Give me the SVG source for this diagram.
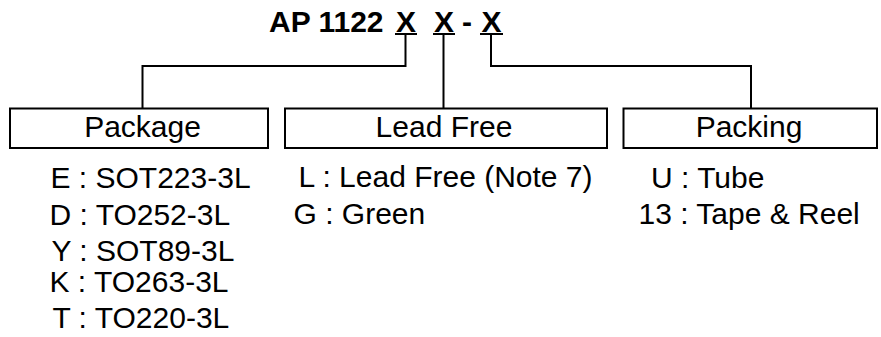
<svg xmlns="http://www.w3.org/2000/svg" width="881" height="337" viewBox="0 0 881 337">
<style>
.t{font-family:"Liberation Sans",Arial,sans-serif;font-size:30px;fill:#000}
.title{font-family:"Liberation Sans",Arial,sans-serif;font-size:30px;font-weight:bold;fill:#000}
.box{fill:#fff;stroke:#000;stroke-width:2}
.ln{fill:none;stroke:#000;stroke-width:2}
.c{text-anchor:middle}
</style>
<rect width="881" height="337" fill="#fff"/>
<g id="title">
<text class="title" y="31.5"><tspan x="269">AP 1122</tspan><tspan x="396">X</tspan><tspan x="434">X</tspan><tspan x="462">-</tspan><tspan x="481.5">X</tspan></text>
<line class="ln" x1="395" y1="34" x2="417" y2="34"/>
<line class="ln" x1="433" y1="34" x2="455" y2="34"/>
<line class="ln" x1="480" y1="34" x2="503" y2="34"/>
</g>
<g id="connectors">
<polyline class="ln" points="405.5,35 405.5,66 142.5,66 142.5,108.5"/>
<polyline class="ln" points="443.5,35 443.5,108.5"/>
<polyline class="ln" points="491,35 491,66 751,66 751,108.5"/>
</g>
<g id="package">
<rect class="box" x="10" y="108.5" width="258" height="39.5"/>
<text class="t c" x="142.5" y="137">Package</text>
<text class="t" x="50.5" y="188">E : SOT223-3L</text>
<text class="t" x="49.5" y="225">D : TO252-3L</text>
<text class="t" x="51.5" y="261">Y : SOT89-3L</text>
<text class="t" x="49.5" y="292">K : TO263-3L</text>
<text class="t" x="52.5" y="328">T : TO220-3L</text>
</g>
<g id="leadfree">
<rect class="box" x="285" y="108.5" width="322" height="39.5"/>
<text class="t c" x="444" y="137">Lead Free</text>
<text class="t" x="298.5" y="187">L : Lead Free (Note 7)</text>
<text class="t" x="293.5" y="223.5">G : Green</text>
</g>
<g id="packing">
<rect class="box" x="623.5" y="108.5" width="253.5" height="39.5"/>
<text class="t c" x="749" y="137">Packing</text>
<text class="t" x="651" y="188">U : Tube</text>
<text class="t" x="638.5" y="223.5">13 : Tape &amp; Reel</text>
</g>
</svg>
